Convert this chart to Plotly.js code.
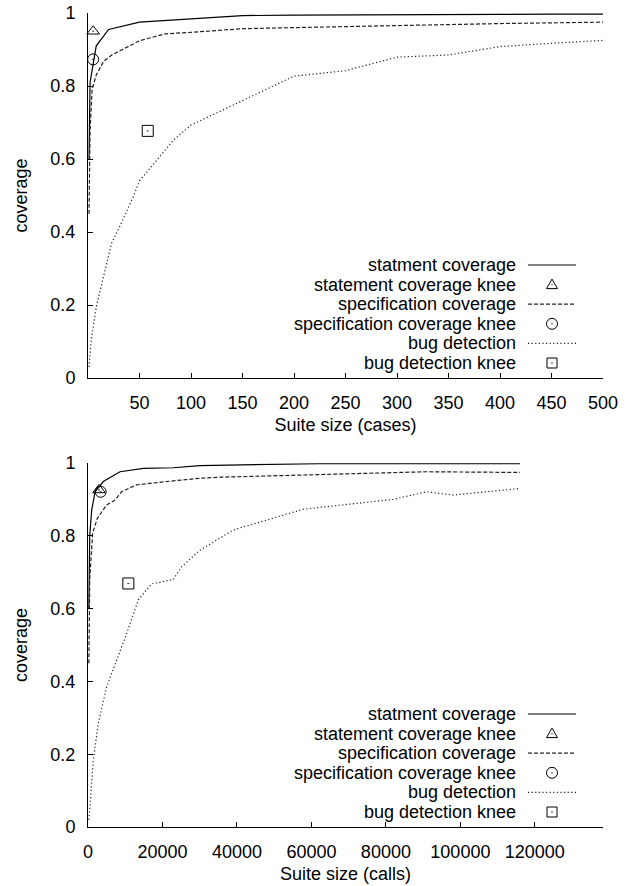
<!DOCTYPE html>
<html>
<head>
<meta charset="utf-8">
<script src="https://cdn.plot.ly/plotly-3.0.1.min.js"></script>
<style>html,body{margin:0;padding:0;background:#fff;}#chart{width:634px;height:886px;}</style>
</head>
<body>
<div id="chart"></div>
<script>
// ---------- data: suite size in test cases ----------
const casesStmtX = [1, 2, 8, 20, 50, 100, 150, 200, 250, 300, 350, 400, 450, 500];
const casesStmtY = [0.60, 0.81, 0.91, 0.955, 0.975, 0.985, 0.993, 0.994, 0.995, 0.995, 0.996, 0.996, 0.997, 0.997];
const casesSpecX = [1, 2, 4, 8, 15, 23, 50, 75, 100, 150, 200, 250, 300, 350, 400, 450, 500];
const casesSpecY = [0.45, 0.68, 0.79, 0.83, 0.867, 0.885, 0.924, 0.943, 0.947, 0.957, 0.960, 0.963, 0.966, 0.968, 0.971, 0.973, 0.975];
const casesBugX = [1, 3, 8, 15, 23, 30, 44, 50, 67, 83, 100, 150, 200, 250, 300, 350, 400, 450, 500];
const casesBugY = [0.03, 0.10, 0.195, 0.28, 0.37, 0.41, 0.497, 0.54, 0.597, 0.652, 0.693, 0.76, 0.827, 0.842, 0.879, 0.885, 0.908, 0.917, 0.925];
const casesStmtKnee = [5, 0.95];
const casesSpecKnee = [5, 0.873];
const casesBugKnee = [58, 0.677];

// ---------- data: suite size in calls ----------
const callsStmtX = [230, 460, 1000, 1900, 4100, 8600, 14900, 22900, 30000, 45000, 62000, 90000, 116000];
const callsStmtY = [0.60, 0.80, 0.871, 0.921, 0.949, 0.976, 0.985, 0.987, 0.993, 0.996, 0.998, 0.998, 0.998];
const callsSpecX = [230, 460, 1250, 2500, 5000, 7250, 9000, 13000, 22900, 30000, 35500, 59600, 90900, 116000];
const callsSpecY = [0.45, 0.68, 0.807, 0.848, 0.885, 0.898, 0.921, 0.94, 0.951, 0.958, 0.961, 0.967, 0.976, 0.974];
const callsBugX = [230, 540, 1430, 2770, 5000, 10400, 13500, 15750, 17100, 22900, 25150, 30000, 39000, 57800, 82000, 90900, 98100, 116000];
const callsBugY = [0.02, 0.056, 0.184, 0.285, 0.385, 0.532, 0.624, 0.651, 0.668, 0.68, 0.715, 0.76, 0.816, 0.873, 0.9, 0.921, 0.912, 0.93];
const callsStmtKnee = [2950, 0.926];
const callsSpecKnee = [3400, 0.921];
const callsBugKnee = [10830, 0.669];

// ---------- labels ----------
const legendLabels = ['statment coverage', 'statement coverage knee', 'specification coverage',
  'specification coverage knee', 'bug detection', 'bug detection knee'];
const yTicks = [0, 0.2, 0.4, 0.6, 0.8, 1];
const yTickText = ['0', '0.2', '0.4', '0.6', '0.8', '1'];
const casesTicks = [50, 100, 150, 200, 250, 300, 350, 400, 450, 500];
const callsTicks = [0, 20000, 40000, 60000, 80000, 100000, 120000];

// ---------- styling ----------
const FONT = '"Liberation Sans", Arial, Helvetica, sans-serif';
const FS = 18;
const W = 634, H = 886, ML = 88, MR = 31, MT = 13, MB = 59;
const px2x = px => (px - ML) / (W - ML - MR);
const py2y = py => (H - MB - py) / (H - MT - MB);

const lineStmt = {color: '#000', width: 1.2, dash: 'solid'};
const lineSpec = {color: '#222', width: 1.2, dash: '4px,2px'};
const lineBug = {color: '#222', width: 1.2, dash: '1.2px,2.4px'};
const mk = sym => ({symbol: sym, size: 11, color: '#000', line: {color: '#000', width: 1}});

function series(xa, ya, x, y, line) {
  return {type: 'scatter', mode: 'lines', x: x, y: y, xaxis: xa, yaxis: ya, line: line,
    showlegend: false, hoverinfo: 'x+y'};
}
function knee(xa, ya, p, sym) {
  return {type: 'scatter', mode: 'markers', x: [p[0]], y: [p[1]], xaxis: xa, yaxis: ya,
    marker: mk(sym), showlegend: false, cliponaxis: false};
}

const traces = [
  series('x', 'y', casesStmtX, casesStmtY, lineStmt),
  knee('x', 'y', casesStmtKnee, 'triangle-up-open-dot'),
  series('x', 'y', casesSpecX, casesSpecY, lineSpec),
  knee('x', 'y', casesSpecKnee, 'circle-open-dot'),
  series('x', 'y', casesBugX, casesBugY, lineBug),
  knee('x', 'y', casesBugKnee, 'square-open-dot'),
  series('x2', 'y2', callsStmtX, callsStmtY, lineStmt),
  knee('x2', 'y2', callsStmtKnee, 'triangle-up-open-dot'),
  series('x2', 'y2', callsSpecX, callsSpecY, lineSpec),
  knee('x2', 'y2', callsSpecKnee, 'circle-open-dot'),
  series('x2', 'y2', callsBugX, callsBugY, lineBug),
  knee('x2', 'y2', callsBugKnee, 'square-open-dot')
];

// ---------- manual gnuplot-style key (text right-aligned, sample on the right) ----------
const annotations = [];
const shapes = [];
const ROW = 19.6, FIRST = 15;
const sampleKinds = [
  {kind: 'line', line: lineStmt}, {kind: 'tri'}, {kind: 'line', line: lineSpec},
  {kind: 'circ'}, {kind: 'line', line: lineBug}, {kind: 'sq'}];
[378, 827].forEach(axisPy => {
  legendLabels.forEach((lab, i) => {
    const py = axisPy - FIRST - ROW * (legendLabels.length - 1 - i);
    annotations.push({xref: 'paper', yref: 'paper', x: px2x(517), y: py2y(py), xanchor: 'right',
      yanchor: 'middle', text: lab, showarrow: false, borderpad: 0,
      font: {family: FONT, size: FS, color: '#000'}});
    const k = sampleKinds[i];
    const cx = px2x(552), cy = py2y(py);
    const base = {xref: 'paper', yref: 'paper', xsizemode: 'pixel', ysizemode: 'pixel', xanchor: cx, yanchor: cy,
      line: {color: '#000', width: 1}, fillcolor: 'rgba(0,0,0,0)'};
    if (k.kind === 'line') {
      shapes.push({type: 'line', xref: 'paper', yref: 'paper', x0: px2x(528), x1: px2x(576), y0: cy, y1: cy,
        line: {color: k.line.color, width: k.line.width, dash: k.line.dash}});
    } else {
      if (k.kind === 'circ') shapes.push(Object.assign({type: 'circle', x0: -5.5, x1: 5.5, y0: -5.5, y1: 5.5}, base));
      if (k.kind === 'sq') shapes.push(Object.assign({type: 'rect', x0: -5, x1: 5, y0: -5, y1: 5}, base));
      if (k.kind === 'tri') shapes.push(Object.assign({type: 'path', path: 'M -5.5,-4 L 5.5,-4 L 0,5.5 Z'}, base));
      shapes.push(Object.assign({}, base, {type: 'circle', x0: -0.7, x1: 0.7, y0: -0.7, y1: 0.7, fillcolor: '#000', line: {width: 0}}));
    }
  });
});

const axBase = {
  showline: true, linecolor: '#000', linewidth: 1, mirror: false, showgrid: false, zeroline: false,
  ticks: 'inside', ticklen: 5, tickwidth: 1, tickcolor: '#000',
  tickfont: {family: FONT, size: FS, color: '#000'}
};

const layout = {
  width: W, height: H, paper_bgcolor: '#fff', plot_bgcolor: '#fff',
  margin: {l: ML, r: MR, t: MT, b: MB, pad: 0},
  showlegend: false,
  font: {family: FONT, size: FS, color: '#000'},
  xaxis: Object.assign({}, axBase, {domain: [0, 1], anchor: 'y', range: [0, 500], tickmode: 'array',
    tickvals: casesTicks, ticklabelstandoff: 8,
    title: {text: 'Suite size (cases)', font: {family: FONT, size: FS}, standoff: 6}}),
  yaxis: Object.assign({}, axBase, {domain: [py2y(378), 1], anchor: 'x', range: [0, 1], tickmode: 'array',
    tickvals: yTicks, ticktext: yTickText, ticklabelstandoff: 8,
    title: {text: 'coverage', font: {family: FONT, size: FS}, standoff: 18}}),
  xaxis2: Object.assign({}, axBase, {domain: [0, 1], anchor: 'y2', range: [0, 138300], tickmode: 'array',
    tickvals: callsTicks, ticktext: callsTicks.map(String), ticklabelstandoff: 8,
    title: {text: 'Suite size (calls)', font: {family: FONT, size: FS}, standoff: 6}}),
  yaxis2: Object.assign({}, axBase, {domain: [0, py2y(463)], anchor: 'x2', range: [0, 1], tickmode: 'array',
    tickvals: yTicks, ticktext: yTickText, ticklabelstandoff: 8,
    title: {text: 'coverage', font: {family: FONT, size: FS}, standoff: 18}}),
  annotations: annotations,
  shapes: shapes
};

Plotly.newPlot('chart', traces, layout, {staticPlot: true, displayModeBar: false});
</script>
</body>
</html>
